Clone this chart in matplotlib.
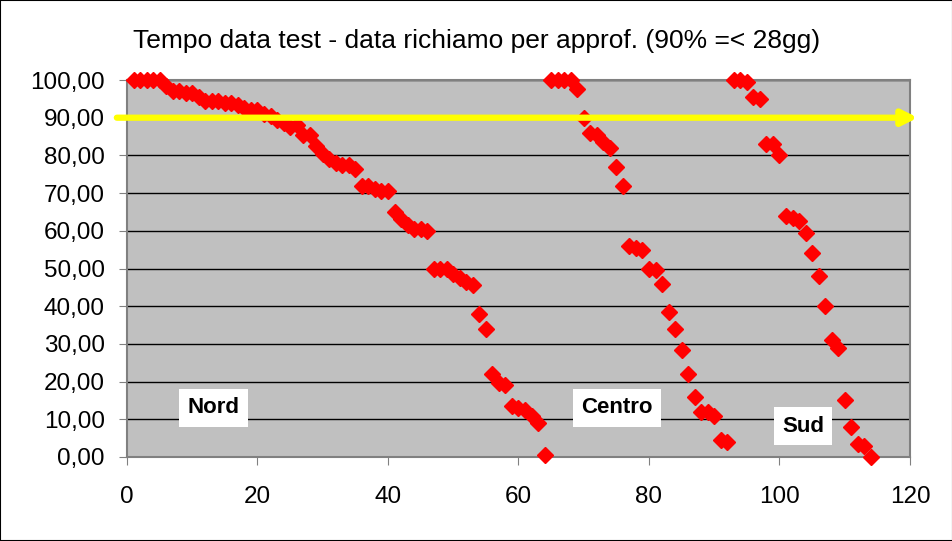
import matplotlib.pyplot as plt
from matplotlib.ticker import FuncFormatter

# giorni (posizione) e percentuale per area
nord_x = list(range(1, 65))
nord_y = [100, 100, 100, 100, 100, 98.5, 97, 97, 96.5, 96.5,
          95.5, 94.5, 94.5, 94.5, 94, 94, 93.5, 92.5, 92, 92,
          91, 90.5, 89.5, 88.5, 87.5, 88, 85.5, 85.5, 82.5, 80.5,
          79, 78, 77.5, 77.5, 76.5, 72, 72, 71, 70.5, 70.5,
          65, 63, 61.5, 60.5, 60.5, 60, 50, 50, 50, 48.5,
          47.5, 46.5, 45.5, 38, 34, 22, 19.5, 19, 13.5, 13,
          12.5, 11, 9, 0.5]

centro_x = list(range(65, 93))
centro_y = [100, 100, 100, 100, 97.5, 90, 86, 85.5, 83.5, 82,
            77, 72, 56, 55.5, 55, 50, 49.5, 46, 38.5, 34,
            28.5, 22, 16, 12, 12, 11, 4.5, 4]

sud_x = list(range(93, 115))
sud_y = [100, 100, 99.5, 95.5, 95, 83, 83, 80, 64, 63.5,
         62.5, 59.5, 54, 48, 40, 31, 29, 15, 8, 3.5,
         3, 0]

soglia = 90

plt.rcParams['font.family'] = ['Liberation Sans', 'DejaVu Sans']

fig = plt.figure(figsize=(9.53, 5.41), dpi=100)
ax = fig.add_axes([127/953, 1-457/541, (910-127)/953, (457-80)/541])
ax.set_facecolor('#C0C0C0')

for xs, ys in [(nord_x, nord_y), (centro_x, centro_y), (sud_x, sud_y)]:
    ax.plot(xs, ys, linestyle='none', marker='D', color='red', markersize=8, zorder=3, clip_on=False)

ax.set_xlim(0, 120)
ax.set_ylim(0, 100)
ax.set_xticks(range(0, 121, 20))
ax.set_yticks(range(0, 101, 10))
ax.yaxis.set_major_formatter(FuncFormatter(lambda v, p: ('%.2f' % v).replace('.', ',')))
ax.grid(axis='y', color='black', linewidth=1)
ax.set_axisbelow(True)
ax.tick_params(labelsize=17.5, length=6, color='#808080')
ax.tick_params(axis='x', pad=15)
ax.tick_params(axis='y', pad=10)
for s in ax.spines.values():
    s.set_color('#808080')
    s.set_linewidth(1.5)

# freccia gialla al 90%
ax.annotate('', xy=(1.01, soglia), xytext=(-0.013, soglia),
            xycoords=('axes fraction', 'data'), textcoords=('axes fraction', 'data'),
            arrowprops=dict(arrowstyle='-|>,head_length=0.9,head_width=0.45', color='yellow', lw=4.5,
                            shrinkA=0, shrinkB=0),
            annotation_clip=False, zorder=4)

box = dict(facecolor='white', edgecolor='none', pad=6)
ax.text(13.3, 13, 'Nord', fontsize=16, fontweight='bold', ha='center', va='center', bbox=box, zorder=5)
ax.text(75.1, 13, 'Centro', fontsize=16, fontweight='bold', ha='center', va='center', bbox=box, zorder=5)
ax.text(103.6, 8.2, 'Sud', fontsize=16, fontweight='bold', ha='center', va='center', bbox=box, zorder=5)

fig.text(0.5, 1-41/541, 'Tempo data test - data richiamo per approf. (90% =< 28gg)',
         ha='center', va='center', fontsize=19)

fig.patches.append(plt.Rectangle((0, 0), 1, 1, transform=fig.transFigure, fill=False,
                                 edgecolor='black', linewidth=1.5))

fig.savefig('out.png', dpi=100)
